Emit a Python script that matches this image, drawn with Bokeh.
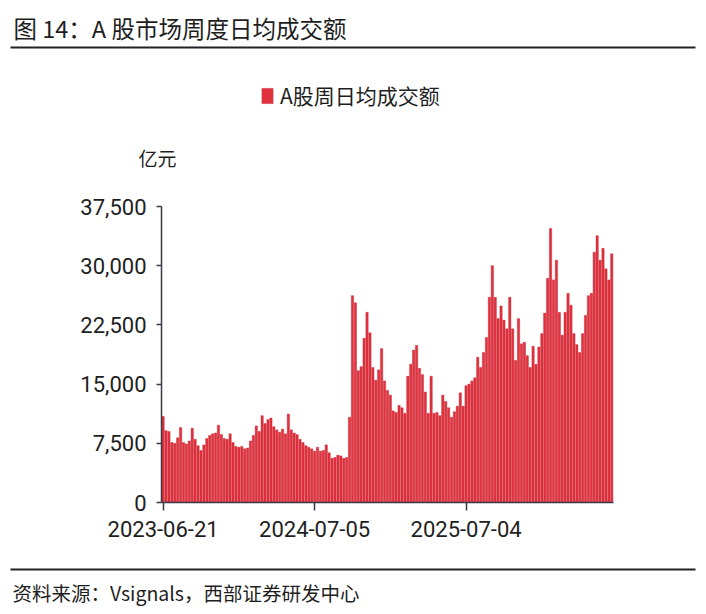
from bokeh.plotting import figure
from bokeh.models import (Range1d, FixedTicker, NumeralTickFormatter, Label, LinearAxis,
                          Legend, LegendItem, ColumnDataSource, BoxAnnotation)
from bokeh.embed import file_html
from bokeh.resources import INLINE

# ---------------- data ----------------
title_text = "图 14：A 股市场周度日均成交额"
series_name = "A股周日均成交额"
unit_text = "亿元"
source_text = "资料来源：Vsignals，西部证券研发中心"

turnover = [
    10900, 9100, 9000, 7600, 7500, 8200, 9500, 7600, 7400, 7800,
    9400, 8000, 7200, 6600, 7300, 8100, 8500, 8700, 8800, 9800,
    8600, 8100, 8000, 8700, 7600, 7100, 7000, 7100, 6800, 6900,
    7800, 8500, 9700, 9000, 11000, 10000, 10500, 10700, 9600, 9200,
    8900, 9300, 8700, 11200, 9200, 8800, 8600, 8000, 7600, 7200,
    7000, 6800, 6500, 7000, 6500, 6600, 7300, 6300, 5600, 5700,
    6000, 5900, 5600, 5700, 10800, 26200, 25300, 16700, 17200, 20800,
    24100, 21500, 17100, 15500, 16800, 19500, 15400, 14200, 13600, 11600,
    11400, 12300, 12000, 11300, 16000, 17500, 19300, 19900, 17000, 16200,
    14000, 11300, 16000, 11300, 11400, 11000, 13600, 12800, 12000, 10800,
    11500, 12200, 13900, 12200, 14800, 15000, 15400, 15800, 18400, 17100,
    19000, 20900, 26000, 30000, 26000, 23300, 24900, 23100, 22000, 26000,
    22000, 18000, 23300, 20100, 20300, 18600, 17100, 19800, 17500, 19700,
    21400, 24000, 28400, 34700, 28200, 30700, 24100, 21200, 24100, 26500,
    25000, 21400, 20000, 19000, 21400, 23700, 26200, 26500, 31700, 33800,
    30700, 32200, 29600, 28200, 31500,
]
week_index = list(range(len(turnover)))
x_tick_positions = [0, 52, 104]
x_tick_labels = ["2023-06-21", "2024-07-05", "2025-07-04"]
y_ticks = [0, 7500, 15000, 22500, 30000, 37500]

# ---------------- style / layout ----------------
CJK = "Noto Sans CJK SC"
NUM = "Roboto"
BAR = "#E0323F"
INK = "#1e1e1e"
AXC = "#3a3a48"

WPX, HPX = 705, 613
# plot area of the chart inside the canvas (pixels)
AX_L, AX_R, AX_T, AX_B = 161, 613, 206, 502
X0, X1 = -0.55, len(turnover) - 0.4
Y0, Y1 = 0, 37500
xs = (X1 - X0) / (AX_R - AX_L)
ys = (Y1 - Y0) / (AX_B - AX_T)
x_range = Range1d(X0 - AX_L * xs, X1 + (WPX - AX_R) * xs)
y_range = Range1d(Y0 - (HPX - AX_B) * ys, Y1 + AX_T * ys)

p = figure(width=WPX, height=HPX, x_range=x_range, y_range=y_range,
           toolbar_location=None, output_backend="svg",
           x_axis_location=None, y_axis_location=None, min_border=0)
p.grid.visible = False
p.outline_line_color = None

src = ColumnDataSource(dict(x=week_index, y=turnover))
r = p.vbar(x="x", top="y", width=0.8, source=src, fill_color=BAR,
           line_color="#C41F2C", line_width=0.4)

yax = LinearAxis(fixed_location=X0, bounds=(Y0, Y1), ticker=FixedTicker(ticks=y_ticks),
                 formatter=NumeralTickFormatter(format="0,0"))
xax = LinearAxis(fixed_location=Y0, bounds=(X0, X1), ticker=FixedTicker(ticks=x_tick_positions),
                 major_label_overrides={k: v for k, v in zip(x_tick_positions, x_tick_labels)})
for ax in (xax, yax):
    ax.axis_line_color = AXC
    ax.axis_line_width = 1.5
    ax.major_tick_line_color = AXC
    ax.major_tick_line_width = 1.5
    ax.minor_tick_line_color = None
    ax.major_tick_in = 0
    ax.major_label_text_font = NUM
    ax.major_label_text_font_size = "22px"
    ax.major_label_text_color = INK
yax.major_tick_out = 5
yax.major_label_standoff = 10
xax.major_tick_out = 8
xax.major_label_standoff = 10
p.add_layout(yax, "left")
p.add_layout(xax, "below")

legend = Legend(items=[LegendItem(label=series_name, renderers=[r])],
                location=(260, 503), orientation="horizontal",
                padding=0, margin=0, spacing=0, label_height=20,
                glyph_width=14, glyph_height=19, label_standoff=6,
                label_text_font=CJK, label_text_font_size="21px", label_text_color=INK,
                border_line_color=None, background_fill_alpha=0)
p.add_layout(legend, "center")

# texts and rules (screen units from the canvas' bottom-left)
p.add_layout(Label(x=13, y=HPX - 27, x_units="screen", y_units="screen", text=title_text,
                   text_font=CJK, text_font_size="23.5px", text_color=INK,
                   text_baseline="middle"))
p.add_layout(BoxAnnotation(left=10, right=695, top=HPX - 46, bottom=HPX - 48,
                           left_units="screen", right_units="screen",
                           top_units="screen", bottom_units="screen",
                           fill_color="#222222", fill_alpha=1, line_alpha=0))
p.add_layout(Label(x=157, y=HPX - 157, x_units="screen", y_units="screen", text=unit_text,
                   text_font=CJK, text_font_size="19px", text_color=INK,
                   text_align="center", text_baseline="middle"))
p.add_layout(BoxAnnotation(left=10, right=695, top=HPX - 568, bottom=HPX - 570,
                           left_units="screen", right_units="screen",
                           top_units="screen", bottom_units="screen",
                           fill_color="#222222", fill_alpha=1, line_alpha=0))
p.add_layout(Label(x=12, y=HPX - 592, x_units="screen", y_units="screen", text=source_text,
                   text_font=CJK, text_font_size="19.5px", text_color=INK,
                   text_baseline="middle"))

open("out.html", "w").write(file_html(p, INLINE))
